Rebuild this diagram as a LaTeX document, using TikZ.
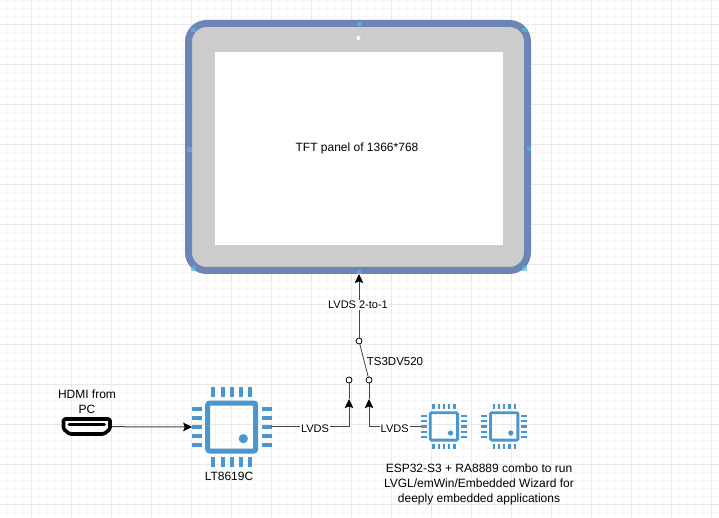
\documentclass[tikz,border=0pt]{standalone}
\usepackage{fontspec}
\setmainfont{Liberation Sans}
\usetikzlibrary{arrows.meta}
\definecolor{chipblue}{HTML}{4A96CF}
\definecolor{bezelblue}{HTML}{6C85B4}
\definecolor{bezelgray}{HTML}{CCCCCC}
\definecolor{wirecol}{HTML}{444444}
\definecolor{markcol}{HTML}{58B6EA}
\tikzset{
  txt/.style={font=\fontsize{12}{15}\selectfont,align=center,inner sep=1pt,text=black},
  lbl/.style={txt,font=\fontsize{11}{14}\selectfont,fill=white},
  wire/.style={draw=wirecol,line width=1pt},
  arr/.style={wire,-{Stealth[length=9pt,width=8.5pt,inset=1.5pt,black]}},
  term/.style={circle,draw=black,fill=white,line width=0.8pt,minimum size=6pt,inner sep=0pt},
  chipbox/.style={minimum size=#1,inner sep=0pt,outer sep=0pt},
  hotspot/.style={fill=markcol,minimum size=4.5pt,inner sep=0pt,opacity=0.7}
}
\newcommand{\drawchip}[2]{
  \begin{scope}[shift={(#1)},scale=#2]
    \draw[chipblue,line width=#2*5pt,rounded corners=#2*2pt] (-24,-24) rectangle (24,24);
    \fill[chipblue] (11.6,11.7) circle (4.6);
    \foreach \p in {-18.4,-9.2,0,9.2,18.4} {
      \fill[chipblue] (\p-2,-40) rectangle (\p+2,-30);
      \fill[chipblue] (\p-2,30) rectangle (\p+2,40);
      \fill[chipblue] (-40,\p-2) rectangle (-30,\p+2);
      \fill[chipblue] (30,\p-2) rectangle (40,\p+2);
    }
  \end{scope}
}
\begin{document}
\begin{tikzpicture}[x=1pt,y=-1pt]
  \useasboundingbox (0,0) rectangle (719,518);
  \fill[white] (0,0) rectangle (719,518);
  % grid
  \foreach \gx in {0,...,89} \draw[black!3,line width=0.8pt] (7.7+\gx*8,0) -- (7.7+\gx*8,518);
  \foreach \gy in {0,...,64} \draw[black!3,line width=0.8pt] (0,\gy*8) -- (719,\gy*8);
  \foreach \gx in {0,...,17} \draw[black!9,line width=0.8pt] (31.7+\gx*40,0) -- (31.7+\gx*40,518);
  \foreach \gy in {0,...,12} \draw[black!9,line width=0.8pt] (0,24+\gy*40) -- (719,24+\gy*40);

  % panel
  \node[draw=bezelblue,fill=bezelgray,line width=7pt,rounded corners=18pt,minimum width=339pt,minimum height=247pt,inner sep=0pt] (bezel) at (358,147) {};
  \node[fill=white,minimum width=288pt,minimum height=193pt,inner sep=0pt] (screen) at (359,148.5) {};
  \node[circle,fill=white,minimum size=4pt,inner sep=0pt] (camera) at (358.5,38) {};
  \node[txt] (paneltxt) at (357,148) {TFT panel of 1366*768};
  \foreach \mx/\my in {193.5/30,359.3/24,189.3/149.3,529/149,359/272,524.5/268.5,193.5/268.5,524.5/30}
    \node[hotspot] at (\mx,\my) {};

  % chips
  \node[chipbox=79pt] (lt) at (231.7,427) {};
  \node[chipbox=46pt] (esp) at (443.9,426.4) {};
  \node[chipbox=46pt] (ra) at (504.2,426.4) {};
  \drawchip{lt.center}{1}
  \drawchip{esp.center}{0.57}
  \drawchip{ra.center}{0.57}

  % hdmi plug
  \node[minimum width=50pt,minimum height=18pt,inner sep=0pt] (hdmi) at (87,426.7) {};
  \draw[black,line width=3.6pt,line join=round,rounded corners=1.5pt] (63.5,419) -- (110,419) -- (110,429) -- (104,434) -- (69.5,434) -- (63.5,429) -- cycle;
  \draw[black,line width=2.8pt,line cap=round] (69,424.5) -- (104.5,424.5);

  % switch
  \node[term] (sw1) at (349,380) {};
  \node[term] (sw2) at (369,380) {};
  \node[term] (swout) at (359,341) {};
  \coordinate (tip1) at (349,399);
  \coordinate (tip2) at (369,399);

  \draw[arr] (hdmi.east) -- (lt.west);
  \draw[wire] (tip1) -- (sw1);
  \draw[wire] (tip2) -- (sw2);
  \draw[arr] (lt.east |- 0,426) -- (349,426) -- (tip1);
  \draw[arr] (esp.west |- 0,426) -- (369,426) -- (tip2);
  \draw[wire,line width=0.8pt] (sw2) -- (swout);
  \draw[arr] (swout) -- (bezel.south -| swout);

  % labels
  \node[lbl] (lvdsa) at (315,428.5) {LVDS};
  \node[lbl] (lvdsb) at (394.7,428.5) {LVDS};
  \node[lbl] (lvdsout) at (358,305) {LVDS 2-to-1};
  \node[txt,font=\fontsize{11.5}{15}\selectfont] (tsname) at (395,361.7) {TS3DV520};
  \node[txt] (hdmitxt) at (87,401.3) {HDMI from\\PC};
  \node[txt] (lttxt) at (229,476.7) {LT8619C};
  \node[txt] (esptxt) at (479,484) {ESP32-S3 + RA8889 combo to run\\LVGL/emWin/Embedded Wizard for\\deeply embedded applications};
\end{tikzpicture}
\end{document}
